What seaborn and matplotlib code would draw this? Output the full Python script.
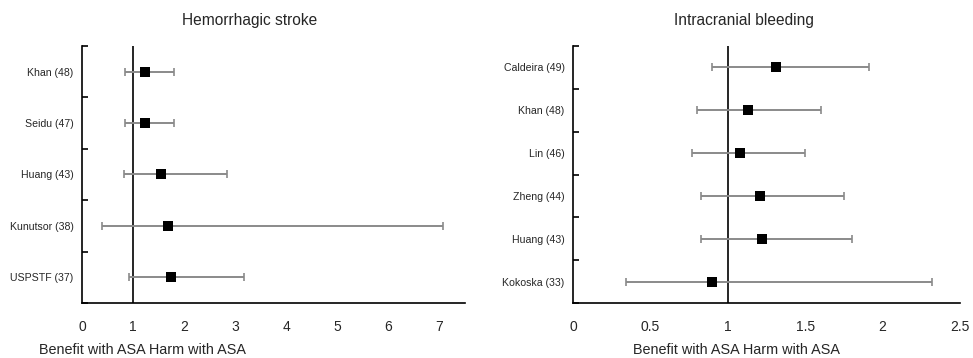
import matplotlib
matplotlib.use("Agg")
import matplotlib.pyplot as plt
import seaborn as sns
import pandas as pd
import numpy as np

# Hemorrhagic stroke
hs_studies = ["Khan (48)", "Seidu (47)", "Huang (43)", "Kunutsor (38)", "USPSTF (37)"]
hs_est = [1.24, 1.24, 1.54, 1.69, 1.75]
hs_low = [0.84, 0.84, 0.83, 0.39, 0.93]
hs_high = [1.80, 1.80, 2.83, 7.07, 3.18]
hs_xticks = [0, 1, 2, 3, 4, 5, 6, 7]
hs_xticklabels = ["0", "1", "2", "3", "4", "5", "6", "7"]

# Intracranial bleeding
ib_studies = ["Caldeira (49)", "Khan (48)", "Lin (46)", "Zheng (44)", "Huang (43)", "Kokoska (33)"]
ib_est = [1.31, 1.13, 1.08, 1.21, 1.22, 0.90]
ib_low = [0.90, 0.80, 0.77, 0.83, 0.83, 0.34]
ib_high = [1.91, 1.60, 1.50, 1.75, 1.80, 2.32]
ib_xticks = [0, 0.5, 1, 1.5, 2, 2.5]
ib_xticklabels = ["0", "0.5", "1", "1.5", "2", "2.5"]

titles = ["Hemorrhagic stroke", "Intracranial bleeding"]
xlabel_text = "Benefit with ASA Harm with ASA"

sns.set_style("white")
plt.rcParams["font.family"] = ["Liberation Sans", "DejaVu Sans"]

fig = plt.figure(figsize=(9.73, 3.58), dpi=100)
W, H = 973, 358

def px_axes(x0, x1, ytop, ybot):
    return fig.add_axes([x0 / W, 1 - ybot / H, (x1 - x0) / W, (ybot - ytop) / H])

ax1 = px_axes(82, 465, 46, 303)
ax2 = px_axes(573, 960, 46, 303)

def forest(ax, studies, est, low, high, xmax, xticks, xticklabels):
    df = pd.DataFrame({"study": studies, "est": est, "low": low, "high": high})
    df["row"] = np.arange(len(df))
    ax.axvline(1, color="black", lw=1.2, zorder=1)
    err = np.vstack([df["est"] - df["low"], df["high"] - df["est"]])
    ax.errorbar(df["est"], df["row"], xerr=err, fmt="none", ecolor="#8a8a8a",
                elinewidth=1.4, capsize=2.8, capthick=1.2, zorder=2)
    sns.scatterplot(data=df, x="est", y="row", marker="s", s=50, color="black",
                    edgecolor="black", linewidth=0, ax=ax, zorder=3, legend=False)
    n = len(df)
    ax.set_ylim(n - 0.5, -0.5)
    ax.set_xlim(0, xmax)
    ax.set_yticks(df["row"])
    ax.set_yticklabels(df["study"], fontsize=7.6)
    ax.set_yticks(np.arange(-0.5, n - 0.4, 1.0), minor=True)
    ax.tick_params(axis="y", which="major", length=0, pad=6)
    ax.tick_params(axis="y", which="minor", direction="in", length=4, width=1.2,
                   color="black", left=True)
    ax.set_xticks(xticks)
    ax.set_xticklabels(xticklabels, fontsize=10)
    ax.tick_params(axis="x", length=0, pad=12)
    ax.set_xlabel("")
    ax.set_ylabel("")
    for s in ["top", "right"]:
        ax.spines[s].set_visible(False)
    for s in ["left", "bottom"]:
        ax.spines[s].set_color("black")
        ax.spines[s].set_linewidth(1.2)

forest(ax1, hs_studies, hs_est, hs_low, hs_high, 7.5, hs_xticks, hs_xticklabels)
forest(ax2, ib_studies, ib_est, ib_low, ib_high, 2.5, ib_xticks, ib_xticklabels)

fig.text(250 / W, 1 - 21 / H, titles[0], ha="center", va="center", fontsize=11.2)
fig.text(744 / W, 1 - 21 / H, titles[1], ha="center", va="center", fontsize=11.2)
fig.text(39 / W, 1 - 350 / H, xlabel_text, ha="left", va="center", fontsize=10.4)
fig.text(633 / W, 1 - 350 / H, xlabel_text, ha="left", va="center", fontsize=10.4)

fig.savefig("out.png", dpi=100)
